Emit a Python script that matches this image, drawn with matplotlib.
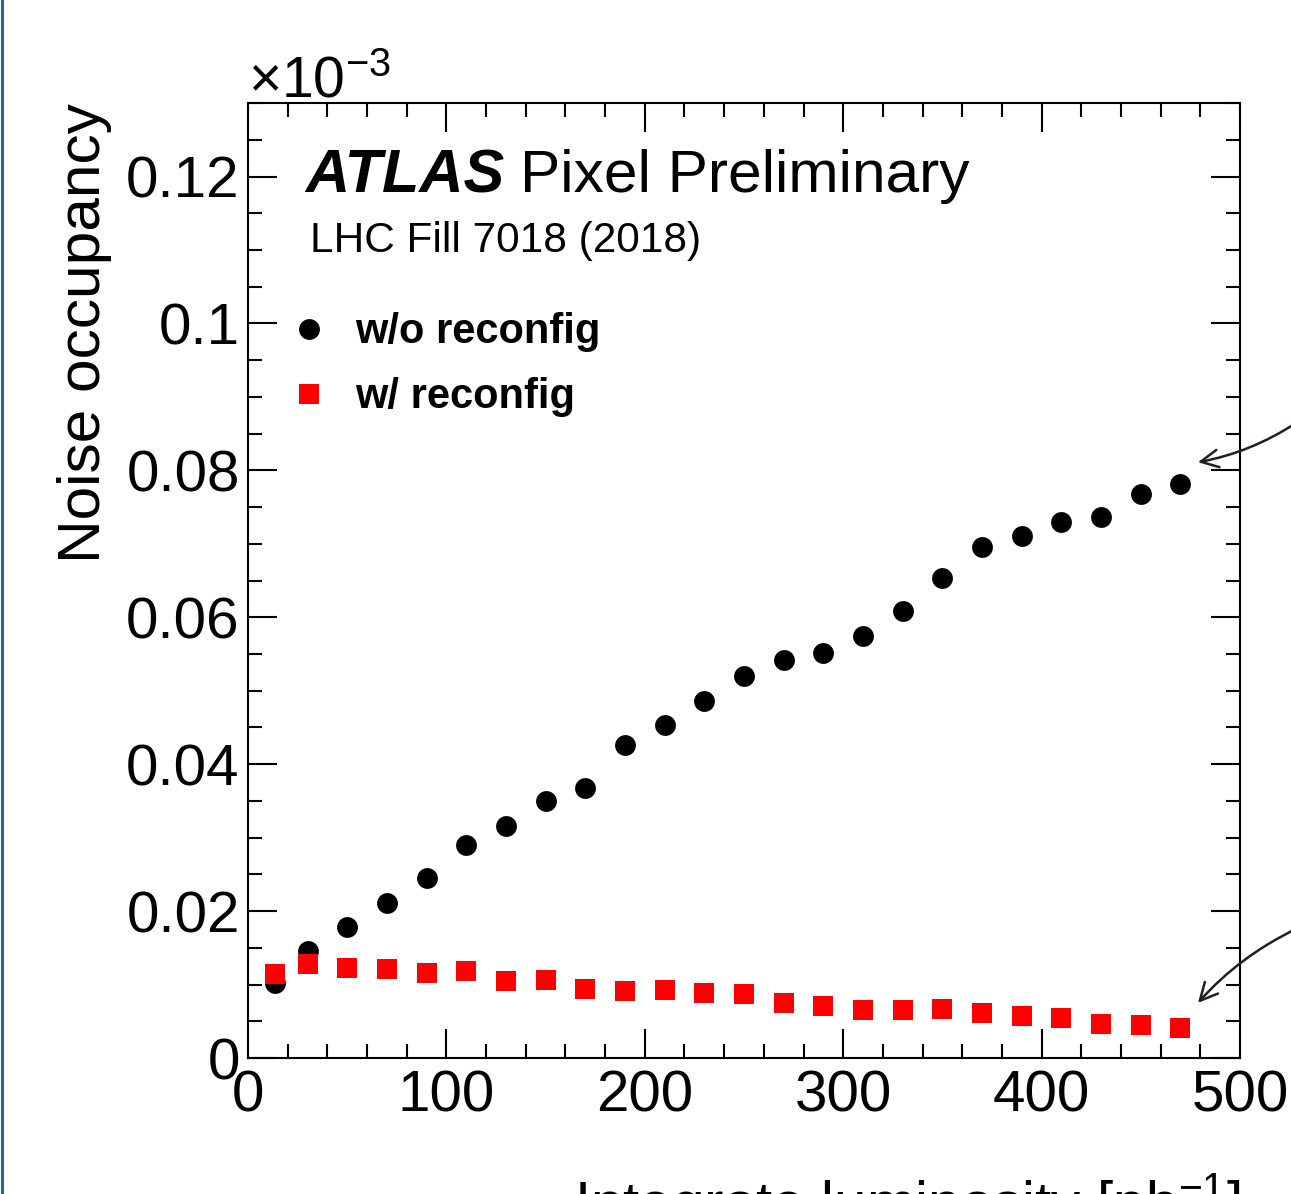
import matplotlib
matplotlib.use("Agg")
import matplotlib.pyplot as plt
from matplotlib.lines import Line2D
from matplotlib.ticker import MultipleLocator, FuncFormatter

plt.rcParams['font.family'] = ['Liberation Sans', 'DejaVu Sans']
plt.rcParams['mathtext.fontset'] = 'custom'
plt.rcParams['mathtext.rm'] = 'Liberation Sans'
plt.rcParams['mathtext.it'] = 'Liberation Sans:italic'
plt.rcParams['mathtext.bf'] = 'Liberation Sans:bold'

# integrated luminosity [pb^-1] and noise occupancy (x 1e-3)
lumi = [13.5, 30, 50, 70, 90, 110, 130, 150, 170, 190, 210, 230,
        250, 270, 290, 310, 330, 350, 370, 390, 410, 430, 450, 470]
occ_no_reconfig = [0.0102, 0.0146, 0.0179, 0.0211, 0.0245, 0.0290, 0.0316, 0.0350,
                   0.0367, 0.0426, 0.0454, 0.0486, 0.0520, 0.0542, 0.0552, 0.0575,
                   0.0608, 0.0654, 0.0695, 0.0711, 0.0729, 0.0737, 0.0768, 0.0781]
occ_reconfig = [0.0114, 0.0128, 0.0123, 0.0121, 0.0116, 0.0119, 0.0105, 0.0106,
                0.0094, 0.0091, 0.0093, 0.0089, 0.0087, 0.0075, 0.0071, 0.0065,
                0.0065, 0.0067, 0.0061, 0.0057, 0.0055, 0.0046, 0.0045, 0.0041]

fig = plt.figure(figsize=(12.91, 11.94), dpi=100)
ax = fig.add_axes([0.1921, 0.1139, 0.7684, 0.7998])

ax.plot(lumi, occ_no_reconfig, 'o', color='black', ms=15, mew=0, label='w/o reconfig')
ax.plot(lumi, occ_reconfig, 's', color='#ff0000', ms=15, mew=0, label='w/ reconfig')

ax.set_xlim(0, 500)
ax.set_ylim(0, 0.13)
ax.xaxis.set_major_locator(MultipleLocator(100))
ax.xaxis.set_minor_locator(MultipleLocator(20))
ax.yaxis.set_major_locator(MultipleLocator(0.02))
ax.yaxis.set_minor_locator(MultipleLocator(0.005))
ax.yaxis.set_major_formatter(FuncFormatter(lambda v, p: '%g' % round(v, 4)))

for s in ax.spines.values():
    s.set_linewidth(1.5)
ax.tick_params(which='both', direction='in', top=True, right=True, width=1.5)
ax.tick_params(which='major', length=21, labelsize=42)
ax.tick_params(which='minor', length=10)
ax.tick_params(axis='x', pad=8)
ax.tick_params(axis='y', pad=6)

ax.set_xlabel('Integrate luminosity [pb$^{-1}$]', fontsize=42, loc='right')
ax.xaxis.set_label_coords(1.0, -0.118)
ax.set_ylabel('Noise occupancy', fontsize=43.5, loc='top')
ax.yaxis.set_label_coords(-0.137, 1.0)

ax.text(0.0, 1.006, r'$\times10^{-3}$', transform=ax.transAxes, fontsize=41,
        ha='left', va='baseline')

ax.text(0.0575, 0.9068, 'ATLAS', transform=ax.transAxes, fontsize=44,
        fontweight='bold', fontstyle='italic', va='baseline')
ax.text(0.274, 0.9068, 'Pixel Preliminary', transform=ax.transAxes, fontsize=43.5,
        va='baseline')
ax.text(0.0625, 0.844, 'LHC Fill 7018 (2018)', transform=ax.transAxes, fontsize=30.5,
        va='baseline')

leg = ax.legend(loc='upper left', bbox_to_anchor=(0.0403, 0.781), frameon=False,
                numpoints=1, handlelength=1.0, handletextpad=0.6,
                labelspacing=0.6, borderpad=0, borderaxespad=0,
                prop={'size': 30, 'weight': 'bold'})

# arrows coming in from the right margin
arrow_kw = dict(arrowstyle='->,head_length=0.9,head_width=0.45', color='#231f20',
                lw=1.8, mutation_scale=14, shrinkA=0, shrinkB=0)
ax.annotate('', xy=(478.8, 0.0811), xycoords='data',
            xytext=(1296, 771), textcoords='figure pixels',
            arrowprops=dict(connectionstyle='arc3,rad=-0.1', **arrow_kw),
            annotation_clip=False)
ax.annotate('', xy=(478.8, 0.0075), xycoords='data',
            xytext=(1296, 265), textcoords='figure pixels',
            arrowprops=dict(connectionstyle='arc3,rad=0.1', **arrow_kw),
            annotation_clip=False)

fig.add_artist(Line2D([0.0012, 0.0012], [0, 1], transform=fig.transFigure,
                      color='#2e5f9a', lw=2.2))

fig.savefig('out.png', dpi=100)
